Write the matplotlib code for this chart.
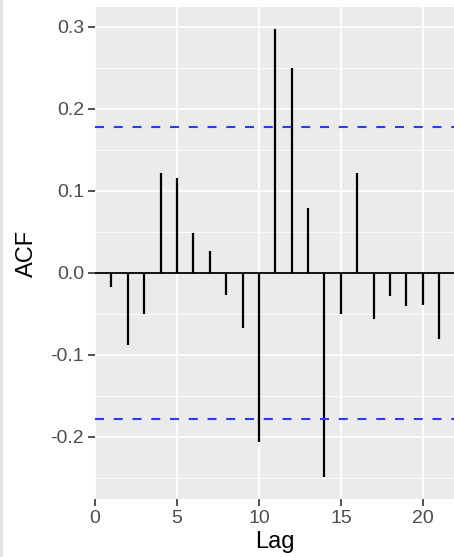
import matplotlib
matplotlib.use("Agg")
import matplotlib.pyplot as plt
import matplotlib.patches as patches
from matplotlib.ticker import MultipleLocator

# ACF values
lags = list(range(1, 22))
acf = [-0.017, -0.088, -0.050, 0.121, 0.116, 0.048, 0.026, -0.027, -0.068,
       -0.207, 0.297, 0.250, 0.079, -0.249, -0.051, 0.122, -0.056, -0.029,
       -0.041, -0.040, -0.081]
conf = 0.178

y_ticks = [-0.2, -0.1, 0.0, 0.1, 0.2, 0.3]
y_tick_labels = ["-0.2", "-0.1", "0.0", "0.1", "0.2", "0.3"]
x_ticks = [0, 5, 10, 15, 20]

plt.rcParams['font.family'] = ['Liberation Sans', 'DejaVu Sans']
plt.rcParams['lines.scale_dashes'] = False

W, H = 454, 557
fig = plt.figure(figsize=(W / 100, H / 100), dpi=100)
fig.patch.set_facecolor("white")

# thin screenshot border on the left
fig.add_artist(patches.Rectangle((0, 0), 3 / W, 1, transform=fig.transFigure,
                                 facecolor="#e4e4e4", edgecolor="none"))

ax = fig.add_axes([95 / W, (H - 499) / H, (W - 95) / W, (499 - 7) / H])
ax.set_facecolor("#ebebeb")
for s in ax.spines.values():
    s.set_visible(False)

ax.set_xlim(0, 21.9)
ax.set_ylim(-0.276, 0.324)

ax.set_xticks(x_ticks)
ax.set_yticks(y_ticks)
ax.set_yticklabels(y_tick_labels)
ax.yaxis.set_minor_locator(MultipleLocator(0.05))

ax.grid(which="major", color="white", linewidth=1.3)
ax.grid(which="minor", axis="y", color="white", linewidth=0.6)
ax.set_axisbelow(True)

ax.tick_params(which="major", length=5, width=1.2, color="#333333",
               labelcolor="#4d4d4d", labelsize=14, pad=3)
ax.tick_params(which="minor", length=0)

# zero line and stems
ax.axhline(0, color="black", linewidth=1.3)
ax.vlines(lags, 0, acf, color="black", linewidth=1.6)

# confidence bounds
for c in (conf, -conf):
    ax.axhline(c, color="#2b3de6", linewidth=1.5, dashes=(6.5, 7.0))

ax.set_xlabel("Lag", fontsize=17, color="black", labelpad=3)
ax.set_ylabel("ACF", fontsize=17, color="black", labelpad=9)

fig.savefig("out.png", dpi=100)
